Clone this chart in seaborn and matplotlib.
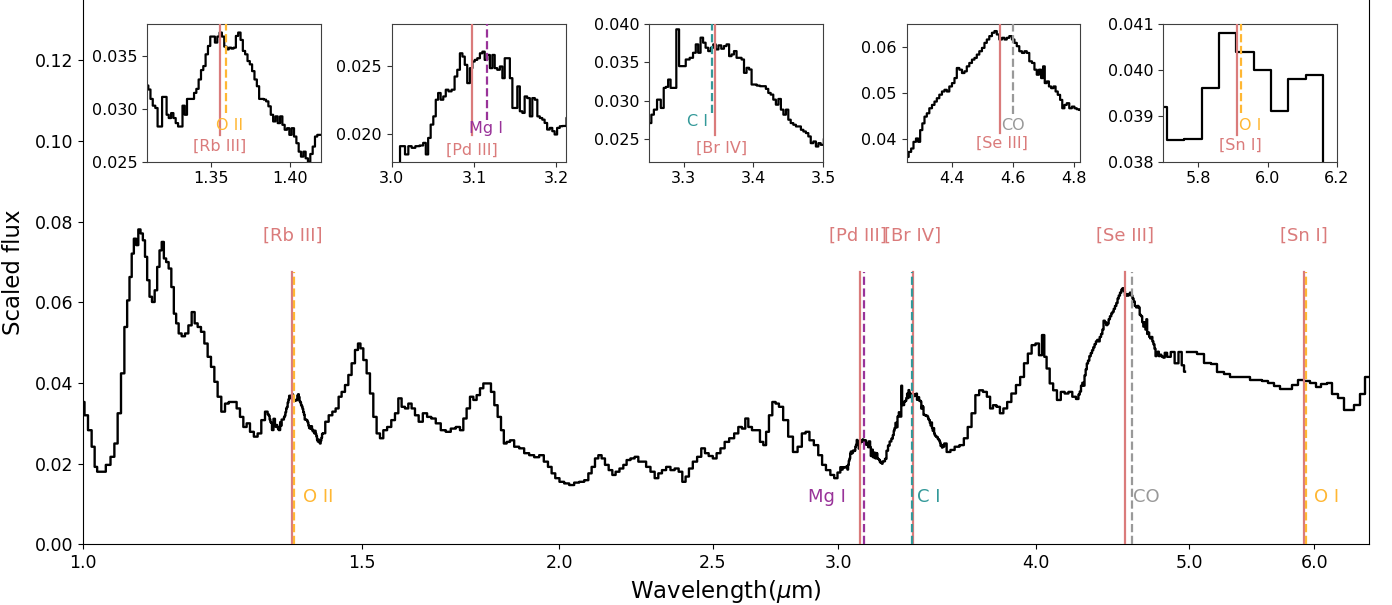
import numpy as np
import matplotlib
matplotlib.use("Agg")
import matplotlib.pyplot as plt
from matplotlib.ticker import FixedLocator, FormatStrFormatter, NullLocator, ScalarFormatter
import seaborn as sns

# ---------------------------------------------------------------------------
# Spectrum, medium-resolution part (micron, scaled flux), stored blue -> red
# ---------------------------------------------------------------------------
wave_a = [1.0000, 1.0044, 1.0102, 1.0151, 1.0191, 1.0225, 1.0300, 1.0375, 1.0442, 1.0492,
          1.0542, 1.0595, 1.0646, 1.0681, 1.0719, 1.0750, 1.0786, 1.0822, 1.0854, 1.0892,
          1.0928, 1.0960, 1.0997, 1.1035, 1.1077, 1.1121, 1.1158, 1.1197, 1.1230, 1.1267,
          1.1305, 1.1349, 1.1394, 1.1432, 1.1471, 1.1516, 1.1571, 1.1629, 1.1685, 1.1741,
          1.1787, 1.1844, 1.1902, 1.1960, 1.2017, 1.2077, 1.2135, 1.2193, 1.2265, 1.2326,
          1.2397, 1.2475, 1.2535, 1.2597, 1.2658, 1.2719, 1.2782, 1.2862, 1.2924, 1.3000,
          1.3064]
flux_a = [0.0353, 0.0320, 0.0283, 0.0242, 0.0192, 0.0180, 0.0180, 0.0197, 0.0217, 0.0250,
          0.0325, 0.0424, 0.0539, 0.0605, 0.0663, 0.0721, 0.0758, 0.0742, 0.0781, 0.0771,
          0.0754, 0.0713, 0.0655, 0.0614, 0.0601, 0.0630, 0.0688, 0.0729, 0.0750, 0.0709,
          0.0700, 0.0684, 0.0638, 0.0572, 0.0548, 0.0523, 0.0516, 0.0523, 0.0543, 0.0576,
          0.0548, 0.0539, 0.0527, 0.0498, 0.0465, 0.0440, 0.0403, 0.0366, 0.0329, 0.0349,
          0.0353, 0.0353, 0.0337, 0.0316, 0.0291, 0.0300, 0.0279, 0.0267, 0.0275, 0.0308,
          0.0329]

wave_rb = [1.3100, 1.3113, 1.3127, 1.3142, 1.3159, 1.3171, 1.3186, 1.3201, 1.3216, 1.3228,
           1.3243, 1.3258, 1.3272, 1.3287, 1.3302, 1.3316, 1.3329, 1.3344, 1.3358, 1.3373,
           1.3388, 1.3403, 1.3417, 1.3432, 1.3447, 1.3461, 1.3476, 1.3491, 1.3505, 1.3520,
           1.3535, 1.3550, 1.3564, 1.3579, 1.3594, 1.3608, 1.3623, 1.3638, 1.3653, 1.3667,
           1.3682, 1.3697, 1.3711, 1.3726, 1.3741, 1.3755, 1.3770, 1.3785, 1.3800, 1.3814,
           1.3829, 1.3844, 1.3858, 1.3873, 1.3888, 1.3903, 1.3917, 1.3932, 1.3947, 1.3961,
           1.3976, 1.3991, 1.4005, 1.4020, 1.4035, 1.4050, 1.4064, 1.4079, 1.4094, 1.4108,
           1.4123, 1.4138, 1.4153, 1.4167, 1.4182, 1.4197]
flux_rb = [0.03221, 0.03183, 0.03094, 0.03030, 0.03008, 0.02833, 0.02833, 0.03113, 0.03113, 0.02944,
           0.02913, 0.02960, 0.02913, 0.02865, 0.02833, 0.02833, 0.03030, 0.02944, 0.03094, 0.03094,
           0.03094, 0.03151, 0.03189, 0.03278, 0.03367, 0.03405, 0.03516, 0.03595, 0.03684, 0.03684,
           0.03627, 0.03684, 0.03722, 0.03684, 0.03589, 0.03563, 0.03579, 0.03570, 0.03579, 0.03690,
           0.03722, 0.03652, 0.03548, 0.03516, 0.03452, 0.03421, 0.03357, 0.03278, 0.03214, 0.03094,
           0.03094, 0.03087, 0.03071, 0.03024, 0.02944, 0.02881, 0.02929, 0.02865, 0.02929, 0.02849,
           0.02802, 0.02817, 0.02754, 0.02817, 0.02738, 0.02675, 0.02595, 0.02548, 0.02595, 0.02532,
           0.02500, 0.02573, 0.02643, 0.02738, 0.02754, 0.02754]

wave_b = [1.4256, 1.4339, 1.4408, 1.4477, 1.4534, 1.4604, 1.4677, 1.4747, 1.4818, 1.4892,
          1.4948, 1.5000, 1.5073, 1.5145, 1.5220, 1.5293, 1.5367, 1.5443, 1.5517, 1.5615,
          1.5706, 1.5784, 1.5860, 1.5936, 1.6015, 1.6092, 1.6170, 1.6250, 1.6345, 1.6447,
          1.6550, 1.6647, 1.6769, 1.6891, 1.7015, 1.7139, 1.7264, 1.7350, 1.7433, 1.7517,
          1.7604, 1.7689, 1.7774, 1.7862, 1.7948, 1.8061, 1.8150, 1.8238, 1.8326, 1.8417,
          1.8478, 1.8567, 1.8659, 1.8795, 1.8932, 1.9071, 1.9210, 1.9350, 1.9491, 1.9614,
          1.9728, 1.9823, 1.9939, 2.0067, 2.0213, 2.0361, 2.0510, 2.0660, 2.0811, 2.0911,
          2.1012, 2.1116, 2.1217, 2.1319, 2.1425, 2.1550, 2.1654, 2.1758, 2.1898, 2.2003,
          2.2109, 2.2251, 2.2381, 2.2489, 2.2620, 2.2762, 2.2908, 2.3042, 2.3152, 2.3288,
          2.3434, 2.3584, 2.3722, 2.3860, 2.3975, 2.4090, 2.4210, 2.4362, 2.4515, 2.4658,
          2.4780, 2.4925, 2.5081, 2.5202, 2.5364, 2.5512, 2.5698, 2.5886, 2.6010, 2.6162,
          2.6265, 2.6392, 2.6546, 2.6712, 2.6845, 2.6974, 2.7064, 2.7199, 2.7330, 2.7461,
          2.7597, 2.7799, 2.8002, 2.8190, 2.8383, 2.8540, 2.8699, 2.8858, 2.9068, 2.9230,
          2.9396, 2.9559, 2.9775, 2.9892]
flux_b = [0.0304, 0.0320, 0.0329, 0.0337, 0.0366, 0.0378, 0.0395, 0.0420, 0.0449, 0.0482,
          0.0498, 0.0486, 0.0457, 0.0424, 0.0374, 0.0316, 0.0275, 0.0263, 0.0283, 0.0291,
          0.0308, 0.0325, 0.0362, 0.0341, 0.0337, 0.0349, 0.0337, 0.0320, 0.0304, 0.0325,
          0.0316, 0.0312, 0.0300, 0.0283, 0.0279, 0.0287, 0.0291, 0.0283, 0.0312, 0.0337,
          0.0366, 0.0358, 0.0370, 0.0387, 0.0399, 0.0399, 0.0378, 0.0345, 0.0316, 0.0283,
          0.0250, 0.0254, 0.0258, 0.0242, 0.0238, 0.0226, 0.0221, 0.0216, 0.0221, 0.0205,
          0.0192, 0.0176, 0.0164, 0.0155, 0.0151, 0.0147, 0.0153, 0.0155, 0.0159, 0.0176,
          0.0192, 0.0213, 0.0221, 0.0213, 0.0197, 0.0184, 0.0172, 0.0180, 0.0188, 0.0197,
          0.0209, 0.0213, 0.0217, 0.0205, 0.0205, 0.0192, 0.0180, 0.0164, 0.0176, 0.0184,
          0.0192, 0.0184, 0.0188, 0.0180, 0.0155, 0.0168, 0.0188, 0.0205, 0.0217, 0.0238,
          0.0226, 0.0219, 0.0213, 0.0226, 0.0238, 0.0254, 0.0263, 0.0275, 0.0291, 0.0287,
          0.0312, 0.0291, 0.0283, 0.0283, 0.0254, 0.0246, 0.0279, 0.0320, 0.0353, 0.0349,
          0.0341, 0.0308, 0.0267, 0.0229, 0.0242, 0.0275, 0.0279, 0.0258, 0.0246, 0.0221,
          0.0197, 0.0184, 0.0172, 0.0164]

wave_pd = [3.0061, 3.0141, 3.0182, 3.0222, 3.0263, 3.0311, 3.0364, 3.0400, 3.0428, 3.0457,
           3.0489, 3.0521, 3.0549, 3.0578, 3.0610, 3.0642, 3.0671, 3.0707, 3.0747, 3.0780,
           3.0812, 3.0844, 3.0873, 3.0901, 3.0933, 3.0966, 3.0994, 3.1022, 3.1055, 3.1087,
           3.1115, 3.1143, 3.1176, 3.1208, 3.1236, 3.1265, 3.1297, 3.1329, 3.1358, 3.1386,
           3.1418, 3.1451, 3.1479, 3.1511, 3.1539, 3.1572, 3.1600, 3.1628, 3.1661, 3.1693,
           3.1721, 3.1754, 3.1782, 3.1814, 3.1842, 3.1871, 3.1903, 3.1935, 3.1964, 3.1992,
           3.2024, 3.2057, 3.2089]
flux_pd = [0.01780, 0.01913, 0.01853, 0.01913, 0.01901, 0.01913, 0.01918, 0.01937, 0.01853, 0.01973,
           0.02070, 0.02130, 0.02251, 0.02300, 0.02251, 0.02275, 0.02324, 0.02312, 0.02324, 0.02420,
           0.02469, 0.02589, 0.02565, 0.02505, 0.02372, 0.02481, 0.02529, 0.02541, 0.02553, 0.02589,
           0.02601, 0.02541, 0.02577, 0.02481, 0.02577, 0.02481, 0.02469, 0.02493, 0.02408, 0.02553,
           0.02553, 0.02408, 0.02191, 0.02191, 0.02348, 0.02167, 0.02155, 0.02275, 0.02263, 0.02130,
           0.02263, 0.02251, 0.02130, 0.02118, 0.02106, 0.02082, 0.02034, 0.02046, 0.02022, 0.01998,
           0.02046, 0.02058, 0.02060]

wave_c = [3.2155, 3.2227, 3.2300, 3.2380, 3.2460]
flux_c = [0.0212, 0.0232, 0.0245, 0.0255, 0.0262]

wave_br = [3.2516, 3.2552, 3.2588, 3.2643, 3.2696, 3.2727, 3.2758, 3.2792, 3.2828, 3.2871,
           3.2914, 3.2950, 3.2998, 3.3058, 3.3111, 3.3154, 3.3190, 3.3223, 3.3259, 3.3295,
           3.3331, 3.3370, 3.3406, 3.3441, 3.3477, 3.3518, 3.3559, 3.3595, 3.3633, 3.3669,
           3.3703, 3.3739, 3.3777, 3.3813, 3.3847, 3.3883, 3.3921, 3.3957, 3.3991, 3.4027,
           3.4070, 3.4118, 3.4161, 3.4197, 3.4230, 3.4266, 3.4305, 3.4341, 3.4377, 3.4413,
           3.4449, 3.4485, 3.4518, 3.4554, 3.4593, 3.4629, 3.4665, 3.4700, 3.4736, 3.4772,
           3.4806, 3.4842, 3.4880, 3.4916, 3.4950, 3.4984]
flux_br = [0.02706, 0.02816, 0.02882, 0.03013, 0.02904, 0.03167, 0.03180, 0.03276, 0.03167, 0.03167,
           0.03934, 0.03452, 0.03452, 0.03539, 0.03561, 0.03627, 0.03737, 0.03627, 0.03825, 0.03759,
           0.03693, 0.03649, 0.03693, 0.03737, 0.03671, 0.03724, 0.03680, 0.03715, 0.03737, 0.03583,
           0.03605, 0.03649, 0.03561, 0.03561, 0.03539, 0.03364, 0.03430, 0.03408, 0.03211, 0.03211,
           0.03197, 0.03189, 0.03189, 0.03154, 0.03101, 0.03079, 0.03013, 0.02947, 0.03022, 0.02882,
           0.02816, 0.02882, 0.02750, 0.02706, 0.02684, 0.02662, 0.02662, 0.02618, 0.02596, 0.02575,
           0.02531, 0.02443, 0.02465, 0.02399, 0.02443, 0.02421]

wave_d = [3.5040, 3.5234, 3.5430, 3.5667, 3.5928, 3.6127, 3.6333, 3.6534, 3.6737, 3.6941,
          3.7151, 3.7357, 3.7504, 3.7674, 3.7883, 3.8054, 3.8265, 3.8477, 3.8735, 3.8995,
          3.9211, 3.9435, 3.9653, 3.9873, 4.0100, 4.0275, 4.0457, 4.0546, 4.0729, 4.0913,
          4.1140, 4.1368, 4.1604, 4.1834, 4.2066, 4.2305]
flux_d = [0.0250, 0.0229, 0.0234, 0.0242, 0.0246, 0.0263, 0.0291, 0.0325, 0.0370, 0.0382,
          0.0378, 0.0366, 0.0337, 0.0345, 0.0341, 0.0325, 0.0337, 0.0353, 0.0374, 0.0395,
          0.0415, 0.0449, 0.0473, 0.0494, 0.0498, 0.0469, 0.0519, 0.0465, 0.0436, 0.0399,
          0.0382, 0.0358, 0.0378, 0.0374, 0.0378, 0.0366]

wave_se = [4.2521, 4.2608, 4.2685, 4.2762, 4.2849, 4.2904, 4.2981, 4.3047, 4.3123, 4.3200,
           4.3288, 4.3375, 4.3452, 4.3529, 4.3616, 4.3704, 4.3781, 4.3858, 4.3945, 4.4033,
           4.4110, 4.4186, 4.4274, 4.4362, 4.4438, 4.4515, 4.4603, 4.4690, 4.4767, 4.4844,
           4.4932, 4.5019, 4.5096, 4.5173, 4.5260, 4.5348, 4.5425, 4.5501, 4.5589, 4.5677,
           4.5753, 4.5830, 4.5918, 4.6005, 4.6082, 4.6159, 4.6247, 4.6334, 4.6411, 4.6488,
           4.6575, 4.6663, 4.6740, 4.6816, 4.6882, 4.6959, 4.7014, 4.7068, 4.7145, 4.7211,
           4.7288, 4.7364, 4.7430, 4.7507, 4.7584, 4.7649, 4.7726, 4.7803, 4.7890, 4.7978,
           4.8055, 4.8132, 4.8219]
flux_se = [0.03604, 0.03714, 0.03788, 0.03934, 0.04007, 0.03934, 0.04190, 0.04337, 0.04484, 0.04557,
           0.04667, 0.04740, 0.04813, 0.04886, 0.04963, 0.05033, 0.05070, 0.05033, 0.05143, 0.05216,
           0.05326, 0.05546, 0.05509, 0.05436, 0.05473, 0.05582, 0.05656, 0.05729, 0.05766, 0.05839,
           0.05912, 0.05985, 0.06095, 0.06168, 0.06242, 0.06315, 0.06352, 0.06278, 0.06168, 0.06205,
           0.06168, 0.06205, 0.06242, 0.06168, 0.06095, 0.06022, 0.05912, 0.05875, 0.05912, 0.05875,
           0.05692, 0.05656, 0.05509, 0.05399, 0.05509, 0.05326, 0.05582, 0.05216, 0.05253, 0.05143,
           0.05106, 0.05143, 0.05033, 0.04960, 0.04850, 0.04667, 0.04740, 0.04777, 0.04667, 0.04703,
           0.04667, 0.04645, 0.04630]

wave_e = [4.8300, 4.8550, 4.8820, 4.9098, 4.9370, 4.9565, 4.9703]
flux_e = [0.0475, 0.0465, 0.0477, 0.0449, 0.0477, 0.0444, 0.0428]

# Low-resolution tail
wave_lr = [4.985, 5.035, 5.085, 5.135, 5.185, 5.235, 5.285, 5.335, 5.385, 5.435,
           5.485, 5.535, 5.585, 5.635, 5.685, 5.735, 5.785, 5.835, 5.885, 5.935,
           5.985, 6.035, 6.085, 6.135, 6.185, 6.235, 6.285, 6.335, 6.385, 6.435,
           6.485]
flux_lr = [0.0477, 0.0476, 0.0471, 0.0449, 0.0447, 0.0428, 0.0422, 0.0416, 0.0415, 0.0414,
           0.0408, 0.0407, 0.0405, 0.0399, 0.0392, 0.03848, 0.0385, 0.0396, 0.0408, 0.0404,
           0.0400, 0.0391, 0.0398, 0.0399, 0.0373, 0.0364, 0.0334, 0.0333, 0.0345, 0.0372,
           0.0414]

# Line identifications (pairs shown together in each zoom panel)
forbidden_labels = ["[Rb III]", "[Pd III]", "[Br IV]", "[Se III]", "[Sn I]"]
forbidden_waves = [1.3560, 3.0980, 3.3450, 4.5560, 5.9110]
permitted_labels = ["O II", "Mg I", "C I", "CO", "O I"]
permitted_waves = [1.3595, 3.1160, 3.3400, 4.6000, 5.9250]

main_xticks = [1.0, 1.5, 2.0, 2.5, 3.0, 4.0, 5.0, 6.0]
main_yticks = [0.00, 0.02, 0.04, 0.06, 0.08, 0.10, 0.12]

# ---------------------------------------------------------------------------
med_parts = [(wave_a, flux_a), (wave_rb, flux_rb), (wave_b, flux_b), (wave_pd, flux_pd),
             (wave_c, flux_c), (wave_br, flux_br), (wave_d, flux_d), (wave_se, flux_se),
             (wave_e, flux_e)]
for w, f in med_parts:
    assert len(w) == len(f), (len(w), len(f))
assert len(wave_lr) == len(flux_lr)
wave_med = np.concatenate([np.asarray(w, float) for w, _ in med_parts])
flux_med = np.concatenate([np.asarray(f, float) for _, f in med_parts])
wave_low = np.asarray(wave_lr, float)
flux_low = np.asarray(flux_lr, float)

FORB_COLOR = "#DA7B7B"
PERM_COLORS = {"O II": "#FFB733", "Mg I": "#993399", "C I": "#339999",
               "CO": "#999999", "O I": "#FFB733"}

FIG_W, FIG_H = 1392, 605
fig = plt.figure(figsize=(FIG_W / 100, FIG_H / 100), dpi=100)


def px_box(left, top, right, bottom):
    return [left / FIG_W, 1 - bottom / FIG_H, (right - left) / FIG_W, (bottom - top) / FIG_H]


def draw_spectrum(ax, lw=1.5):
    sns.lineplot(x=wave_med, y=flux_med, ax=ax, color="black", lw=lw,
                 drawstyle="steps-mid", estimator=None, sort=False)
    sns.lineplot(x=wave_low, y=flux_low, ax=ax, color="black", lw=lw,
                 drawstyle="steps-mid", estimator=None, sort=False)


PT = 0.72  # points per pixel at 100 dpi

# ----------------------------- main panel ---------------------------------
ax = fig.add_axes(px_box(83, 0, 1369.4, 544.3))
draw_spectrum(ax, lw=1.7)
ax.set_xscale("log")
ax.set_xlim(1.0, 6.5)
ax.set_ylim(0, 0.135)
ax.xaxis.set_major_locator(FixedLocator(main_xticks))
ax.xaxis.set_major_formatter(FormatStrFormatter("%.1f"))
ax.xaxis.set_minor_locator(NullLocator())
ax.yaxis.set_major_locator(FixedLocator(main_yticks))
ax.yaxis.set_major_formatter(FormatStrFormatter("%.2f"))
ax.tick_params(labelsize=12.5)
ax.spines["top"].set_visible(False)
ax.set_xlabel("Wavelength($\\mu$m)", fontsize=16.5)
ax.set_ylabel("Scaled flux", fontsize=16.5, labelpad=7)

upper_dx = {"[Pd III]": -2.5}
lower_place = {"O II": (9, "left"), "Mg I": (-18, "right"), "C I": (5, "left"),
               "CO": (0.8, "left"), "O I": (8, "left")}

for lab, w in zip(forbidden_labels, forbidden_waves):
    ax.axvline(w, ymin=0, ymax=0.5, color=FORB_COLOR, lw=1.6, zorder=3)
    ax.annotate(lab, xy=(w, 0.0765), xytext=(upper_dx.get(lab, 0) * PT, 0),
                textcoords="offset points", ha="center", va="center",
                color=FORB_COLOR, fontsize=13)
for lab, w in zip(permitted_labels, permitted_waves):
    col = PERM_COLORS[lab]
    ax.axvline(w, ymin=0, ymax=0.5, color=col, lw=1.6, ls="--", zorder=3)
    dx, ha = lower_place[lab]
    ax.annotate(lab, xy=(w, 0.0117), xytext=(dx * PT, 0), textcoords="offset points",
                ha=ha, va="center", color=col, fontsize=13)

# ----------------------------- zoom panels --------------------------------
insets = [
    dict(box=(147.3, 24.3, 321.3, 161.7), xlim=(1.31, 1.42), ylim=(0.025, 0.038),
         xticks=[1.35, 1.40], yticks=[0.025, 0.030, 0.035],
         perm_y=0.267, forb_y=0.109, perm_dx=4.3, forb_dx=0, perm_end=0.352, forb_end=0.194),
    dict(box=(391.7, 24.3, 566.0, 161.7), xlim=(3.0, 3.2116), ylim=(0.018, 0.028),
         xticks=[3.0, 3.1, 3.2], yticks=[0.020, 0.025],
         perm_y=0.243, forb_y=0.085, perm_dx=-1, forb_dx=-0.5, perm_end=0.30, forb_end=0.194),
    dict(box=(649.0, 24.3, 823.0, 161.7), xlim=(3.25, 3.5), ylim=(0.022, 0.040),
         xticks=[3.3, 3.4, 3.5], yticks=[0.025, 0.030, 0.035, 0.040],
         perm_y=0.291, forb_y=0.097, perm_dx=-14, forb_dx=6, perm_end=0.352, forb_end=0.194),
    dict(box=(906.7, 24.3, 1080.0, 161.7), xlim=(4.25, 4.82), ylim=(0.035, 0.065),
         xticks=[4.4, 4.6, 4.8], yticks=[0.04, 0.05, 0.06],
         perm_y=0.267, forb_y=0.134, perm_dx=0, forb_dx=2, perm_end=0.345, forb_end=0.207),
    dict(box=(1163.3, 24.3, 1337.0, 161.7), xlim=(5.7, 6.2), ylim=(0.038, 0.041),
         xticks=[5.8, 6.0, 6.2], yticks=[0.038, 0.039, 0.040, 0.041],
         perm_y=0.267, forb_y=0.116, perm_dx=8.5, forb_dx=3.4, perm_end=0.352, forb_end=0.194),
]

for i, spec in enumerate(insets):
    axi = fig.add_axes(px_box(*spec["box"]))
    draw_spectrum(axi, lw=1.6)
    axi.set_xlim(*spec["xlim"])
    axi.set_ylim(*spec["ylim"])
    axi.xaxis.set_major_locator(FixedLocator(spec["xticks"]))
    axi.yaxis.set_major_locator(FixedLocator(spec["yticks"]))
    for axis in (axi.xaxis, axi.yaxis):
        axis.set_major_formatter(ScalarFormatter(useOffset=False))
    axi.tick_params(labelsize=11.5, color="0.2")
    for sp in axi.spines.values():
        sp.set_color("0.25")
    axi.set_xlabel("")
    axi.set_ylabel("")

    fl, fw = forbidden_labels[i], forbidden_waves[i]
    pl, pw = permitted_labels[i], permitted_waves[i]
    pc = PERM_COLORS[pl]
    axi.axvline(fw, ymin=spec["forb_end"], ymax=1, color=FORB_COLOR, lw=1.6, zorder=3)
    axi.axvline(pw, ymin=spec["perm_end"], ymax=1, color=pc, lw=1.6, ls="--", zorder=3)
    axi.annotate(pl, xy=(pw, spec["perm_y"]), xycoords=("data", "axes fraction"),
                 xytext=(spec["perm_dx"] * PT, 0), textcoords="offset points",
                 ha="center", va="center", color=pc, fontsize=11.5)
    axi.annotate(fl, xy=(fw, spec["forb_y"]), xycoords=("data", "axes fraction"),
                 xytext=(spec["forb_dx"] * PT, 0), textcoords="offset points",
                 ha="center", va="center", color=FORB_COLOR, fontsize=11.5)

fig.savefig("out.png", dpi=100)
